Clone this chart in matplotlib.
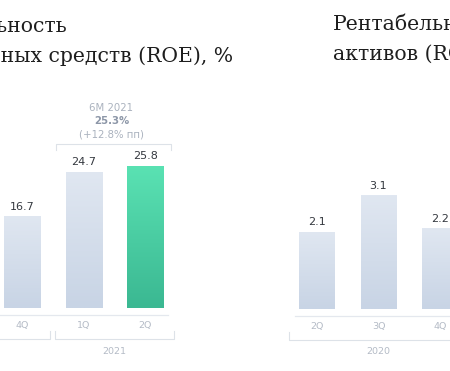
import matplotlib.pyplot as plt
import numpy as np

# ROE (left panel, visible part)
roe_quarters = ['4Q', '1Q', '2Q']
roe_values = [16.7, 24.7, 25.8]
roe_groups = [('2020', -3, 0), ('2021', 1, 2)]
roe_note = ['6M 2021', '25.3%', '(+12.8% пп)']

# ROA (right panel, visible part)
roa_quarters = ['2Q', '3Q', '4Q']
roa_values = [2.1, 3.1, 2.2]
roa_groups = [('2020', 0, 2)]

GREY = ('#e0e7f1', '#c8d4e5')
GREEN = ('#5ae2b3', '#3bb892')
SANS = ['DejaVu Sans']

W, H = 450, 371
fig = plt.figure(figsize=(W / 100, H / 100), dpi=100)


def px_axes(x0, step, y0, scale, ymax):
    # axes placed so category i sits at x0 + step*i px, zero at y0 px
    left = x0 - 0.5 * step
    return fig.add_axes([left / W, (H - y0) / H, 3 * step / W, ymax * scale / H])


def gradient_bars(ax, x, vals, colors, width):
    bars = ax.bar(x, vals, width=width, color='none', zorder=2)
    for b, c in zip(bars, colors):
        top = np.array(plt.matplotlib.colors.to_rgb(c[0]))
        bot = np.array(plt.matplotlib.colors.to_rgb(c[1]))
        t = np.linspace(0, 1, 64)[:, None]
        img = (top * (1 - t) + bot * t)[:, None, :]
        x0, y0 = b.get_x(), b.get_y()
        im = ax.imshow(img, extent=[x0, x0 + b.get_width(), y0, y0 + b.get_height()],
                       aspect='auto', origin='upper', zorder=1)
        im.set_clip_path(b)
    return bars


def panel(ax, quarters, vals, colors, groups, ymax, base_from, base_to, year_dy):
    x = np.arange(len(quarters))
    bars = gradient_bars(ax, x, vals, colors, 0.585)
    ax.set_xlim(-0.5, 2.5)
    ax.set_ylim(0, ymax)
    for b, v in zip(bars, vals):
        ax.annotate(f'{v:.1f}', (b.get_x() + b.get_width() / 2, v),
                    xytext=(0, 6.8), textcoords='offset points', ha='center', va='center',
                    fontsize=8, color='#34383f', family=SANS)
    ax.set_xticks(x, quarters)
    ax.tick_params(axis='x', length=0, pad=9.5, labelsize=6.8, labelcolor='#b4bbc6')
    for lab in ax.get_xticklabels():
        lab.set_family(SANS)
    ax.set_yticks([])
    for s in ax.spines.values():
        s.set_visible(False)
    h = ax.bbox.height
    tr = ax.get_xaxis_transform()
    ax.plot([base_from, base_to], [-6.5 / h] * 2, transform=tr, color='#e4e8ee',
            lw=0.9, clip_on=False)
    g = 0.04
    for name, a, b in groups:
        xa, xb = a - 0.5 + g, b + 0.5 - g
        ax.plot([xa, xa, xb, xb], [-23 / h, -30.5 / h, -30.5 / h, -23 / h], transform=tr,
                color='#dde2e8', lw=0.8, clip_on=False)
        ax.text((a + b) / 2, -year_dy / h, name, transform=tr, ha='center', va='center',
                fontsize=6.8, color='#b4bbc6', family=SANS)


# left panel: ROE
ax1 = px_axes(22, 61.7, 308, 5.51, 30)
panel(ax1, roe_quarters, roe_values, [GREY, GREY, GREEN], roe_groups, 30, -1.5, 2.37, 44)
ax1.plot([0.55, 0.55, 2.42, 2.42], [28.7, 29.8, 29.8, 28.7], color='#dde2e8', lw=0.8,
         clip_on=False)
for txt, y, w, c in zip(roe_note, [36.3, 33.9, 31.5], ['normal', 'bold', 'normal'],
                        ['#aab2be', '#8d97a8', '#aab2be']):
    ax1.text(1.45, y, txt, ha='center', va='center', fontsize=7.3, fontweight=w,
             color=c, family=SANS, clip_on=False)

# right panel: ROA
ax2 = px_axes(317, 61.5, 309, 36.7, 4.5)
panel(ax2, roa_quarters, roa_values, [GREY, GREY, GREY], roa_groups, 4.5, -0.36, 3.0, 42)

# titles
TITLE = dict(fontsize=14.7, color='#1e1e1e', family=['DejaVu Serif'], va='baseline')
fig.text(68 / W, 1 - 32 / H, 'Рентабельность', ha='right', **TITLE)
fig.text(233 / W, 1 - 62 / H, 'собственных средств (ROE), %', ha='right', **TITLE)
fig.text(333 / W, 1 - 30 / H, 'Рентабельность', ha='left', **TITLE)
fig.text(333 / W, 1 - 60 / H, 'активов (ROA), %', ha='left', **TITLE)

fig.savefig('out.png', dpi=100)
